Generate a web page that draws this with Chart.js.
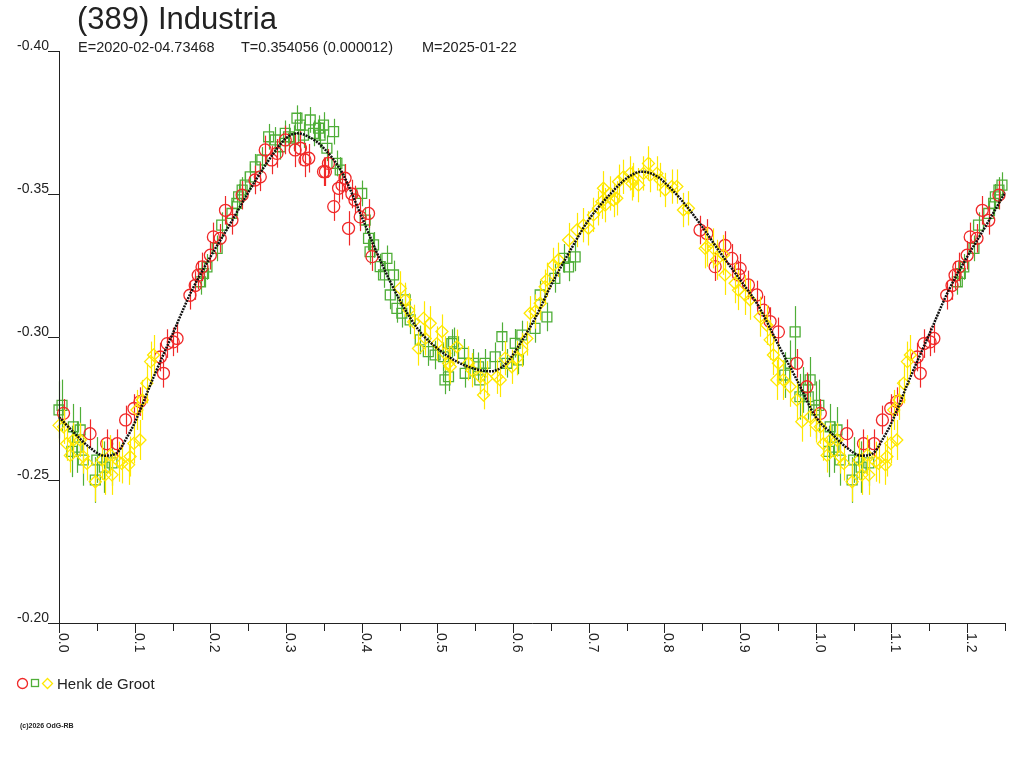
<!DOCTYPE html>
<html>
<head>
<meta charset="utf-8">
<title>(389) Industria</title>
<script src="https://cdn.jsdelivr.net/npm/chart.js@4.4.1/dist/chart.umd.min.js"></script>
<style>
  html, body { margin: 0; padding: 0; background: #fff; }
  canvas { display: block; }
</style>
</head>
<body>
<canvas id="lc" width="1024" height="768"></canvas>
<script>
// Tick labels
const xTickLabels = ['0.0', '0.1', '0.2', '0.3', '0.4', '0.5', '0.6', '0.7', '0.8', '0.9', '1.0', '1.1', '1.2'];
const yTickLabels = ['-0.40', '-0.35', '-0.30', '-0.25', '-0.20'];

// Fitted light curve (phase, magnitude)
const fitPhase = [0, 0.02, 0.04, 0.06, 0.075, 0.09, 0.1, 0.125, 0.15, 0.175, 0.2, 0.225, 0.25, 0.275, 0.3, 0.315,
    0.33, 0.35, 0.375, 0.4, 0.425, 0.45, 0.475, 0.5, 0.525, 0.55, 0.57, 0.59, 0.61, 0.63, 0.65, 0.675, 0.7, 0.725,
    0.75, 0.77, 0.79, 0.81, 0.83, 0.85, 0.875, 0.9, 0.925, 0.95, 0.975];
const fitMag = [-0.2720, -0.2665, -0.2615, -0.2585, -0.2592, -0.2650, -0.2700, -0.2860, -0.3010, -0.3160, -0.3280,
    -0.3390, -0.3505, -0.3610, -0.3695, -0.3712, -0.3700, -0.3660, -0.3570, -0.3420, -0.3265, -0.3130, -0.3025,
    -0.2960, -0.2915, -0.2888, -0.2880, -0.2905, -0.2980, -0.3070, -0.3180, -0.3300, -0.3410, -0.3490, -0.3555,
    -0.3578, -0.3562, -0.3515, -0.3455, -0.3385, -0.3290, -0.3200, -0.3105, -0.2975, -0.2850];

// Observations: [phase, magnitude, error]
const redPoints = [
    [0.006, -0.2733, 0.005], [0.041, -0.2662, 0.005], [0.063, -0.2627, 0.005], [0.077, -0.2627, 0.005],
    [0.088, -0.2710, 0.005], [0.099, -0.2750, 0.005], [0.107, -0.2774, 0.005], [0.134, -0.2930, 0.005],
    [0.138, -0.2873, 0.005], [0.143, -0.2977, 0.005], [0.151, -0.2983, 0.005], [0.156, -0.2995, 0.005],
    [0.173, -0.3146, 0.005], [0.180, -0.3180, 0.005], [0.184, -0.3216, 0.005], [0.189, -0.3245, 0.005],
    [0.200, -0.3286, 0.005], [0.204, -0.3350, 0.005], [0.213, -0.3345, 0.005], [0.220, -0.3443, 0.005],
    [0.2285, -0.3408, 0.005], [0.242, -0.3496, 0.005], [0.259, -0.3549, 0.005], [0.266, -0.3560, 0.005],
    [0.2725, -0.3654, 0.005], [0.281, -0.3619, 0.005], [0.288, -0.3642, 0.005], [0.299, -0.3689, 0.005],
    [0.312, -0.3654, 0.006], [0.319, -0.3660, 0.006], [0.325, -0.3619, 0.006], [0.330, -0.3625, 0.005],
    [0.3495, -0.3578, 0.005], [0.352, -0.3578, 0.005], [0.356, -0.3607, 0.005], [0.363, -0.3456, 0.005],
    [0.3694, -0.3520, 0.005], [0.374, -0.3531, 0.005], [0.378, -0.3555, 0.005], [0.3826, -0.3380, 0.006],
    [0.387, -0.3500, 0.005], [0.391, -0.3479, 0.005], [0.398, -0.3420, 0.005], [0.409, -0.3432, 0.005],
    [0.4135, -0.3281, 0.005], [0.847, -0.3374, 0.005], [0.856, -0.3362, 0.005], [0.867, -0.3246, 0.005],
    [0.880, -0.3320, 0.005], [0.889, -0.3275, 0.005], [0.8978, -0.3217, 0.005], [0.900, -0.3240, 0.005],
    [0.911, -0.3182, 0.005], [0.922, -0.3147, 0.005], [0.931, -0.3094, 0.005], [0.9396, -0.3054, 0.005],
    [0.9506, -0.3018, 0.005], [0.975, -0.2908, 0.005], [0.9881, -0.2826, 0.005]
];

const greenPoints = [
    [0.000, -0.2745, 0.010], [0.004, -0.2761, 0.009], [0.017, -0.2600, 0.009], [0.019, -0.2686, 0.008],
    [0.024, -0.2615, 0.009], [0.028, -0.2675, 0.008], [0.032, -0.2570, 0.009], [0.048, -0.2500, 0.008],
    [0.050, -0.2570, 0.008], [0.060, -0.2545, 0.009], [0.070, -0.2560, 0.008],
    [0.187, -0.3193, 0.0045], [0.191, -0.3222, 0.0045], [0.1955, -0.3245, 0.0045], [0.209, -0.3310, 0.0045],
    [0.215, -0.3391, 0.0045], [0.2285, -0.3432, 0.0045], [0.235, -0.3467, 0.0045], [0.2373, -0.3490, 0.0045],
    [0.242, -0.3514, 0.0045], [0.246, -0.3531, 0.0045], [0.2527, -0.3560, 0.0045], [0.2593, -0.3595, 0.0045],
    [0.268, -0.3619, 0.0045], [0.277, -0.3700, 0.0045], [0.2857, -0.3689, 0.0045], [0.2923, -0.3665, 0.0045],
    [0.299, -0.3712, 0.0045], [0.3033, -0.3700, 0.0045], [0.310, -0.3695, 0.0045], [0.3144, -0.3765, 0.0045],
    [0.3188, -0.3741, 0.0045], [0.3231, -0.3706, 0.0045], [0.332, -0.3759, 0.0045], [0.3363, -0.3712, 0.0045],
    [0.343, -0.3730, 0.0045], [0.345, -0.3706, 0.0045], [0.3495, -0.3741, 0.0045], [0.354, -0.3660, 0.0045],
    [0.3628, -0.3718, 0.0045], [0.3672, -0.3607, 0.0045], [0.3716, -0.3584, 0.0045], [0.400, -0.3502, 0.0045],
    [0.4046, -0.3409, 0.0045], [0.409, -0.3345, 0.0045], [0.411, -0.3298, 0.0045], [0.4156, -0.3322, 0.0045],
    [0.4244, -0.3246, 0.0045], [0.4288, -0.3217, 0.0045], [0.4333, -0.3275, 0.0045], [0.4377, -0.3147, 0.005],
    [0.442, -0.3217, 0.005], [0.4465, -0.3100, 0.005], [0.453, -0.3083, 0.005], [0.4575, -0.3130, 0.005],
    [0.464, -0.3060, 0.005], [0.4773, -0.2990, 0.005], [0.488, -0.2949, 0.005], [0.497, -0.2937, 0.005],
    [0.508, -0.2931, 0.005], [0.510, -0.2850, 0.005], [0.5147, -0.2861, 0.005], [0.519, -0.2977, 0.005],
    [0.5213, -0.2983, 0.005], [0.5345, -0.2943, 0.005], [0.5367, -0.2873, 0.005], [0.5477, -0.2908, 0.005],
    [0.5543, -0.2896, 0.005], [0.556, -0.2850, 0.005], [0.5631, -0.2908, 0.005], [0.5764, -0.2931, 0.005],
    [0.5852, -0.3001, 0.005], [0.5918, -0.2908, 0.005], [0.6028, -0.2978, 0.005], [0.607, -0.2920, 0.005],
    [0.6116, -0.3007, 0.005], [0.629, -0.3030, 0.005], [0.6358, -0.3147, 0.005], [0.6447, -0.3070, 0.005],
    [0.6552, -0.3205, 0.005], [0.6667, -0.3275, 0.005], [0.6733, -0.3245, 0.005], [0.682, -0.3280, 0.005],
    [0.959, -0.2867, 0.008], [0.966, -0.2908, 0.008], [0.9727, -0.3018, 0.009], [0.979, -0.2791, 0.008],
    [0.9836, -0.2815, 0.008], [0.990, -0.2791, 0.008], [0.9925, -0.2850, 0.008]
];

const yellowPoints = [
    [0.000, -0.2691, 0.006], [0.006, -0.2686, 0.006], [0.010, -0.2627, 0.006], [0.015, -0.2586, 0.006],
    [0.019, -0.2640, 0.006], [0.028, -0.2640, 0.006], [0.032, -0.2582, 0.006], [0.037, -0.2558, 0.006],
    [0.048, -0.2494, 0.007], [0.057, -0.2570, 0.007], [0.061, -0.2518, 0.007], [0.068, -0.2587, 0.007],
    [0.070, -0.2518, 0.007], [0.079, -0.2564, 0.007], [0.083, -0.2558, 0.007], [0.092, -0.2553, 0.007],
    [0.094, -0.2582, 0.007], [0.099, -0.2628, 0.007], [0.103, -0.2745, 0.007], [0.107, -0.2640, 0.007],
    [0.110, -0.2780, 0.007], [0.116, -0.2838, 0.007], [0.121, -0.2914, 0.007], [0.125, -0.2937, 0.007],
    [0.4509, -0.3170, 0.006], [0.4575, -0.3130, 0.006], [0.462, -0.3094, 0.006], [0.4685, -0.3053, 0.006],
    [0.475, -0.2960, 0.006], [0.4817, -0.3065, 0.006], [0.484, -0.2995, 0.006], [0.4905, -0.3048, 0.006],
    [0.4993, -0.2977, 0.006], [0.506, -0.3019, 0.006], [0.510, -0.2943, 0.006], [0.5147, -0.2908, 0.006],
    [0.517, -0.2896, 0.006], [0.5258, -0.2966, 0.006], [0.541, -0.2908, 0.006], [0.5456, -0.2884, 0.006],
    [0.5565, -0.2861, 0.006], [0.561, -0.2797, 0.005], [0.5654, -0.2856, 0.006], [0.5786, -0.2861, 0.006],
    [0.583, -0.2850, 0.006], [0.5896, -0.2926, 0.006], [0.5984, -0.2896, 0.006], [0.605, -0.2926, 0.006],
    [0.6116, -0.2955, 0.006], [0.6182, -0.2995, 0.006], [0.6226, -0.3083, 0.006], [0.629, -0.3089, 0.006],
    [0.6358, -0.3118, 0.006], [0.6424, -0.3176, 0.006], [0.6446, -0.3200, 0.006], [0.6534, -0.3252, 0.006],
    [0.660, -0.3270, 0.006], [0.6733, -0.3339, 0.006], [0.6843, -0.3374, 0.006], [0.693, -0.3391, 0.006],
    [0.6996, -0.3380, 0.006], [0.7062, -0.3427, 0.006], [0.7128, -0.3450, 0.006], [0.7173, -0.3473, 0.006],
    [0.7194, -0.3520, 0.006], [0.7217, -0.3461, 0.006], [0.7283, -0.3502, 0.006], [0.7327, -0.3479, 0.006],
    [0.737, -0.3485, 0.006], [0.7393, -0.3543, 0.006], [0.7459, -0.3560, 0.006], [0.7548, -0.3572, 0.006],
    [0.757, -0.3537, 0.006], [0.759, -0.3549, 0.006], [0.7657, -0.3531, 0.006], [0.7723, -0.3572, 0.006],
    [0.7789, -0.3607, 0.006], [0.7811, -0.3566, 0.006], [0.790, -0.3572, 0.006], [0.7943, -0.3549, 0.006],
    [0.801, -0.3514, 0.006], [0.8098, -0.3526, 0.006], [0.8164, -0.3526, 0.006], [0.8251, -0.3444, 0.006],
    [0.8317, -0.3450, 0.006], [0.8538, -0.3310, 0.007], [0.856, -0.3316, 0.007], [0.8647, -0.3310, 0.007],
    [0.869, -0.3270, 0.007], [0.878, -0.3287, 0.007], [0.880, -0.3217, 0.007], [0.8934, -0.3188, 0.007],
    [0.8978, -0.3164, 0.007], [0.9066, -0.3147, 0.007], [0.913, -0.3130, 0.007], [0.9264, -0.3071, 0.007],
    [0.935, -0.3042, 0.007], [0.9396, -0.2990, 0.007], [0.944, -0.2937, 0.007], [0.9485, -0.2850, 0.007],
    [0.9506, -0.2908, 0.007], [0.957, -0.2850, 0.007], [0.966, -0.2826, 0.007], [0.975, -0.2780, 0.007],
    [0.9815, -0.2704, 0.007], [0.9925, -0.2721, 0.007]
];

const PHASE_SHOWN = 0.25; // part of the cycle repeated after phase 1.0

// Phase-fold: points up to PHASE_SHOWN are shown again one cycle later
function foldPoints(points) {
    const out = points.map(p => ({ x: p[0], y: p[1], e: p[2] }));
    points.filter(p => p[0] <= PHASE_SHOWN).forEach(p => out.push({ x: p[0] + 1, y: p[1], e: p[2] }));
    return out;
}

function foldCurve(phases, mags) {
    const out = phases.map((x, i) => ({ x: x, y: mags[i] }));
    phases.forEach((x, i) => { if (x <= PHASE_SHOWN) out.push({ x: x + 1, y: mags[i] }); });
    return out;
}

const RED = '#f02828';
const GREEN = '#4fae38';
const YELLOW = '#ffe800';
const FONT = '"Liberation Sans", Arial, sans-serif';

// Error bars, drawn just before each dataset's markers
const errorBars = {
    id: 'errorBars',
    beforeDatasetDraw(chart, args) {
        const ds = chart.data.datasets[args.index];
        if (!ds.errColor) return;
        const ctx = chart.ctx;
        const yScale = chart.scales.y;
        ctx.save();
        ctx.strokeStyle = ds.errColor;
        ctx.lineWidth = 1.2;
        args.meta.data.forEach((el, i) => {
            const d = ds.data[i];
            const px = Math.round(el.x) + 0.5;
            ctx.beginPath();
            ctx.moveTo(px, yScale.getPixelForValue(d.y - d.e));
            ctx.lineTo(px, yScale.getPixelForValue(d.y + d.e));
            ctx.stroke();
        });
        ctx.restore();
    }
};

// Axes, titles, legend
const decorations = {
    id: 'decorations',
    afterDraw(chart) {
        const ctx = chart.ctx;
        const xs = chart.scales.x;
        const ys = chart.scales.y;
        const area = chart.chartArea;
        ctx.save();
        ctx.strokeStyle = '#222';
        ctx.fillStyle = '#222';
        ctx.lineWidth = 1;

        // axis lines
        ctx.beginPath();
        ctx.moveTo(area.left + 0.5, area.top);
        ctx.lineTo(area.left + 0.5, area.bottom + 0.5);
        ctx.lineTo(area.right, area.bottom + 0.5);
        ctx.stroke();

        // y ticks + labels (label sits above-left of tick)
        ctx.font = '14px ' + FONT;
        ctx.textAlign = 'right';
        ctx.textBaseline = 'alphabetic';
        yTickLabels.forEach(lbl => {
            const py = Math.round(ys.getPixelForValue(parseFloat(lbl))) + 0.5;
            ctx.beginPath();
            ctx.moveTo(area.left - 11, py);
            ctx.lineTo(area.left, py);
            ctx.stroke();
            ctx.fillText(lbl, area.left - 10, py - 2);
        });

        // x ticks: majors labelled, minors halfway between
        xTickLabels.forEach(lbl => {
            const v = parseFloat(lbl);
            const px = Math.round(xs.getPixelForValue(v)) + 0.5;
            ctx.beginPath();
            ctx.moveTo(px, area.bottom);
            ctx.lineTo(px, area.bottom + 10);
            const pm = Math.round(xs.getPixelForValue(v + 0.05)) + 0.5;
            ctx.moveTo(pm, area.bottom);
            ctx.lineTo(pm, area.bottom + 8);
            ctx.stroke();
            ctx.save();
            ctx.translate(px - 0.5, area.bottom + 10);
            ctx.rotate(Math.PI / 2);
            ctx.textAlign = 'left';
            ctx.fillText(lbl, 0, 0);
            ctx.restore();
        });

        // title and header line
        ctx.textAlign = 'left';
        ctx.font = '31px ' + FONT;
        ctx.fillText('(389) Industria', 77, 29);
        ctx.font = '14.5px ' + FONT;
        ctx.fillText('E=2020-02-04.73468', 78, 52);
        ctx.fillText('T=0.354056 (0.000012)', 241, 52);
        ctx.fillText('M=2025-01-22', 422, 52);

        // legend
        const ly = 683.5;
        ctx.lineWidth = 1.3;
        ctx.strokeStyle = RED;
        ctx.beginPath();
        ctx.arc(22.5, ly, 5, 0, Math.PI * 2);
        ctx.stroke();
        ctx.strokeStyle = GREEN;
        ctx.strokeRect(31.5, ly - 4, 7, 7);
        ctx.strokeStyle = YELLOW;
        ctx.beginPath();
        ctx.moveTo(47.5, ly - 5);
        ctx.lineTo(52.5, ly);
        ctx.lineTo(47.5, ly + 5);
        ctx.lineTo(42.5, ly);
        ctx.closePath();
        ctx.stroke();
        ctx.fillStyle = '#222';
        ctx.font = '15px ' + FONT;
        ctx.fillText('Henk de Groot', 57, 689);

        // copyright
        ctx.font = 'bold 7px ' + FONT;
        ctx.fillText('(c)2026 OdG-RB', 20, 728);
        ctx.restore();
    }
};

function markerSet(label, points, color, style, radius, order) {
    return {
        label: label,
        data: foldPoints(points),
        errColor: color,
        pointStyle: style,
        pointRadius: radius,
        pointBorderColor: color,
        pointBackgroundColor: 'rgba(0,0,0,0)',
        pointBorderWidth: 1.3,
        showLine: false,
        clip: false,
        order: order
    };
}

new Chart(document.getElementById('lc'), {
    type: 'scatter',
    data: {
        datasets: [
            {
                label: 'fit',
                data: foldCurve(fitPhase, fitMag),
                showLine: true,
                borderColor: '#111',
                borderWidth: 2.5,
                borderDash: [2, 1],
                pointRadius: 0,
                cubicInterpolationMode: 'monotone',
                clip: false,
                order: 0
            },
            markerSet('Henk de Groot', greenPoints, GREEN, 'rect', 7, 3),
            markerSet('Henk de Groot', redPoints, RED, 'circle', 6, 2),
            markerSet('Henk de Groot', yellowPoints, YELLOW, 'rectRot', 6, 1)
        ]
    },
    options: {
        responsive: false,
        animation: false,
        devicePixelRatio: 1,
        layout: { padding: { left: 59, right: 19, top: 51, bottom: 145 } },
        scales: {
            x: { type: 'linear', min: 0, max: 1.25, display: false },
            y: { type: 'linear', min: -0.40, max: -0.20, reverse: true, display: false }
        },
        plugins: {
            legend: { display: false },
            tooltip: { enabled: false }
        }
    },
    plugins: [errorBars, decorations]
});
</script>
</body>
</html>
